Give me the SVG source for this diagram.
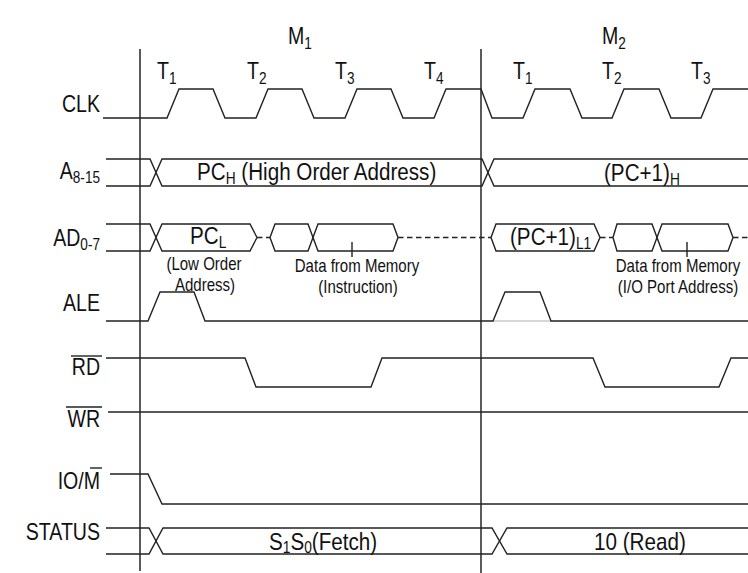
<svg xmlns="http://www.w3.org/2000/svg" width="748" height="573" viewBox="0 0 748 573">
<style>
.w{fill:none;stroke:#222;stroke-width:1.4;stroke-linejoin:miter}
.d{fill:none;stroke:#222;stroke-width:1.4;stroke-dasharray:5.5 3.5}
.g{fill:none;stroke:#c8c8c8;stroke-width:1.4}
.v{fill:none;stroke:#333;stroke-width:1.6}
text{font-family:"Liberation Sans",Arial,sans-serif;fill:#111}
.b{font-size:23px}
.m{font-size:24px}
.s{font-size:17.5px}
.sub{font-size:16px}
.lab{font-size:23px;text-anchor:end}
.c{text-anchor:middle}
</style>
<rect width="748" height="573" fill="#fff"/>
<g id="markers">
<path class="v" d="M140,49V571M481,49V573"/>
</g>
<g id="headers">
<text class="b" transform="translate(288,44) scale(0.85,1)">M<tspan class="sub" dy="5">1</tspan></text>
<text class="b" transform="translate(602,44) scale(0.85,1)">M<tspan class="sub" dy="5">2</tspan></text>
<text class="b" transform="translate(157,79) scale(0.85,1)">T<tspan class="sub" dy="5">1</tspan></text>
<text class="b" transform="translate(247,79) scale(0.85,1)">T<tspan class="sub" dy="5">2</tspan></text>
<text class="b" transform="translate(335,79) scale(0.85,1)">T<tspan class="sub" dy="5">3</tspan></text>
<text class="b" transform="translate(424,79) scale(0.85,1)">T<tspan class="sub" dy="5">4</tspan></text>
<text class="b" transform="translate(513,79) scale(0.85,1)">T<tspan class="sub" dy="5">1</tspan></text>
<text class="b" transform="translate(602,79) scale(0.85,1)">T<tspan class="sub" dy="5">2</tspan></text>
<text class="b" transform="translate(691,79) scale(0.85,1)">T<tspan class="sub" dy="5">3</tspan></text>
</g>
<g id="clk">
<text class="lab" transform="translate(100,112) scale(0.85,1)">CLK</text>
<path class="w" d="M103,118H167L179,89H213L225,118H256L268,89H302L314,118H345L357,89H391L403,118H434L446,89H481L492,118H523L535,89H570L582,118H612L624,89H659L671,118H701L713,89H748"/>
</g>
<g id="a815">
<text class="lab" transform="translate(100,179) scale(0.85,1)">A<tspan class="sub" dy="4">8-15</tspan></text>
<path class="w" d="M106,159H150L162,186H482L494,159H748"/>
<path class="w" d="M106,186H150L162,159H482L494,186H748"/>
<text class="m" transform="translate(197,180) scale(0.86,1)">PC<tspan class="sub" dy="4">H</tspan><tspan dy="-4"> (High Order Address)</tspan></text>
<text class="m" transform="translate(604,181) scale(0.86,1)">(PC+1)<tspan class="sub" dy="4">H</tspan></text>
</g>
<g id="ad07">
<text class="lab" transform="translate(100,246) scale(0.85,1)">AD<tspan class="sub" dy="4">0-7</tspan></text>
<path class="w" d="M106,224H150L162,251H250L257,237.5"/>
<path class="w" d="M106,251H150L162,224H250L257,237.5"/>
<path class="d" d="M257,237.5H270"/>
<path class="w" d="M270,237.5L275,224H308L318,251H393L398,237.5"/>
<path class="w" d="M270,237.5L275,251H308L318,224H393L398,237.5"/>
<path class="d" d="M398,237.5H491"/>
<path class="w" d="M491,237.5L496,224H594L600,237.5L594,251H496Z"/>
<path class="d" d="M600,237.5H613"/>
<path class="w" d="M613,237.5L617,224H652L662,251H728L733,237.5"/>
<path class="w" d="M613,237.5L617,251H652L662,224H728L733,237.5"/>
<path class="d" d="M733,237.5H748"/>
<path class="w" d="M352,242V257M687,242V257"/>
<text class="m" transform="translate(190,244) scale(0.86,1)">PC<tspan class="sub" dy="4">L</tspan></text>
<text class="m" transform="translate(510,245) scale(0.86,1)">(PC+1)<tspan class="sub" dy="4">L1</tspan></text>
<text class="s c" transform="translate(204,270) scale(0.86,1)">(Low Order</text>
<text class="s c" transform="translate(205,291) scale(0.86,1)">Address)</text>
<text class="s c" transform="translate(357,272) scale(0.86,1)">Data from Memory</text>
<text class="s c" transform="translate(358,293) scale(0.86,1)">(Instruction)</text>
<text class="s c" transform="translate(678,272) scale(0.86,1)">Data from Memory</text>
<text class="s c" transform="translate(678,293) scale(0.86,1)">(I/O Port Address)</text>
</g>
<g id="ale">
<text class="lab" transform="translate(100,311) scale(0.85,1)">ALE</text>
<path class="g" d="M493,321H551"/>
<path class="w" d="M106,321H148L160,292H194L205,321H493L505,292H540L551,321H748"/>
</g>
<g id="rd">
<text class="lab" transform="translate(100,375) scale(0.85,1)">RD</text>
<path class="w" d="M71,356H102"/>
<path class="w" d="M106,358H245L256,387H371L382,358H593L605,387H719L731,358H748"/>
</g>
<g id="wr">
<text class="lab" transform="translate(100,427) scale(0.85,1)">WR</text>
<path class="w" d="M66,407H102"/>
<path class="w" d="M108,412H748"/>
</g>
<g id="iom">
<text class="lab" transform="translate(100,489) scale(0.85,1)">IO/M</text>
<path class="w" d="M90,468H102"/>
<path class="w" d="M110,474H148L162,504H748"/>
</g>
<g id="status">
<text class="lab" transform="translate(100,540) scale(0.85,1)">STATUS</text>
<path class="w" d="M106,528H149L163,554H492L507,528H748"/>
<path class="w" d="M106,554H149L163,528H492L507,554H748"/>
<text class="m" transform="translate(269,550) scale(0.86,1)">S<tspan class="sub" dy="3">1</tspan><tspan dy="-3">S</tspan><tspan class="sub" dy="3">0</tspan><tspan dy="-3">(Fetch)</tspan></text>
<text class="m" transform="translate(594,550) scale(0.86,1)">10 (Read)</text>
</g>
</svg>
